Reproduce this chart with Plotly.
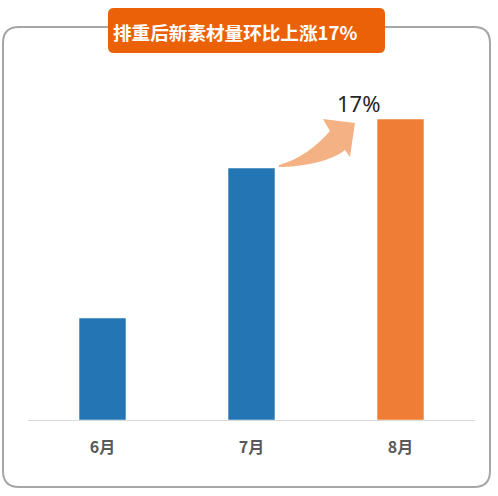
import plotly.graph_objects as go

# data (arbitrary units, axis starts at zero)
months = ["6月", "7月", "8月"]
volumes = [102, 252, 301]
bar_colors = ["#2475B4", "#2475B4", "#EF7D35"]
title_text = "排重后新素材量环比上涨17%"
growth_label = "17%"

# layout geometry (pixels)
FIG_W, FIG_H = 498, 496
ML, MR, MT, MB = 28, 23, 60, 76
PW = FIG_W - ML - MR
PH = FIG_H - MT - MB
Y_MAX = 360
BAR_GAP = 0.685


def px(x):
    return (x - ML) / PW


def py(y):
    return (MT + PH - y) / PH


def rounded_rect(x0, y0, x1, y1, r):
    pts = [
        ("M", [(x0 + r, y0)]), ("L", [(x1 - r, y0)]), ("Q", [(x1, y0), (x1, y0 + r)]),
        ("L", [(x1, y1 - r)]), ("Q", [(x1, y1), (x1 - r, y1)]),
        ("L", [(x0 + r, y1)]), ("Q", [(x0, y1), (x0, y1 - r)]),
        ("L", [(x0, y0 + r)]), ("Q", [(x0, y0), (x0 + r, y0)]),
    ]
    out = ""
    for cmd, ps in pts:
        out += cmd + " " + " ".join(f"{px(a):.5f},{py(b):.5f}" for a, b in ps) + " "
    return out + "Z"


fig = go.Figure()
fig.add_trace(go.Bar(
    x=months, y=volumes,
    marker=dict(color=bar_colors, line=dict(color="rgba(255,255,255,0.5)", width=1)),
    hoverinfo="skip",
))

# arrow from top of 7月 bar toward 8月 bar
step = PW / len(months)
tail_x = ML + 1.5 * step + (1 - BAR_GAP) * step / 2
tail_y = MT + PH - volumes[1] / Y_MAX * PH


def rel(dx, dy):
    return f"{px(tail_x + dx):.5f},{py(tail_y + dy):.5f}"


arrow_path = (
    f"M {rel(4, -1)} C {rel(25, -1)} {rel(55, -6)} {rel(70, -18)} "
    f"L {rel(75, -11)} L {rel(80, -45)} L {rel(48, -49)} L {rel(55, -37)} "
    f"C {rel(40, -20)} {rel(23, -8)} {rel(4, -3)} Z"
)

shapes = [
    dict(type="path", xref="paper", yref="paper", path=rounded_rect(3, 27, 490, 487, 16),
         line=dict(color="#A6A6A6", width=2), fillcolor="rgba(0,0,0,0)", layer="below"),
    dict(type="path", xref="paper", yref="paper", path=rounded_rect(108, 8, 385, 53, 6),
         line=dict(width=0), fillcolor="#EB6108"),
    dict(type="path", xref="paper", yref="paper", path=arrow_path,
         line=dict(width=0), fillcolor="#F4B183"),
]

annotations = [
    dict(xref="paper", yref="paper", x=px(111), y=py(31), xanchor="left", yanchor="middle",
         text=f"<b>{title_text}</b>", showarrow=False,
         font=dict(family="Noto Sans CJK SC", size=18.6, color="white")),
    dict(xref="paper", yref="paper", x=px(tail_x + 84), y=py(tail_y - 65),
         xanchor="center", yanchor="middle", text=growth_label, showarrow=False,
         font=dict(family="Noto Sans", size=22, color="#262626")),
]

fig.update_layout(
    width=FIG_W, height=FIG_H,
    margin=dict(l=ML, r=MR, t=MT, b=MB),
    paper_bgcolor="white", plot_bgcolor="white",
    bargap=BAR_GAP, showlegend=False,
    shapes=shapes, annotations=annotations,
    font=dict(family="Noto Sans CJK SC"),
)
fig.update_xaxes(
    showline=True, linecolor="#D9D9D9", linewidth=1,
    ticks="outside", ticklen=13, tickcolor="rgba(0,0,0,0)",
    tickfont=dict(family="Noto Sans CJK SC", size=16, color="#595959"),
    tickprefix="<b>", ticksuffix="</b>", showgrid=False,
)
fig.update_yaxes(range=[0, Y_MAX], visible=False, showgrid=False)

# the page body has a default 8px margin; drop it so the figure sits at the window corner
fig.write_html("out.html", config={"displayModeBar": False},
               post_script="document.body.style.margin='0';")
